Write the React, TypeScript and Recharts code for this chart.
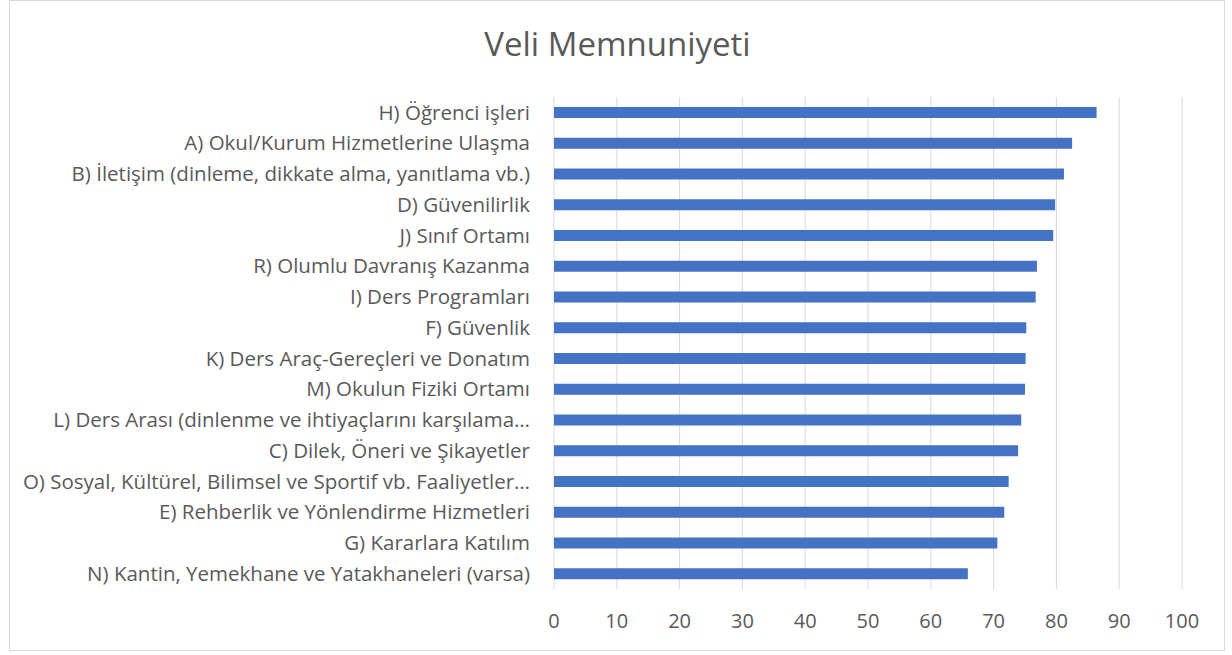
import { BarChart, Bar, XAxis, YAxis, CartesianGrid } from 'recharts'

const categories = [
  'H) Öğrenci işleri',
  'A) Okul/Kurum Hizmetlerine Ulaşma',
  'B) İletişim (dinleme, dikkate alma, yanıtlama vb.)',
  'D) Güvenilirlik',
  'J) Sınıf Ortamı',
  'R) Olumlu Davranış Kazanma',
  'I) Ders Programları',
  'F) Güvenlik',
  'K) Ders Araç-Gereçleri ve Donatım',
  'M) Okulun Fiziki Ortamı',
  'L) Ders Arası (dinlenme ve ihtiyaçlarını karşılama…',
  'C) Dilek, Öneri ve Şikayetler',
  'O) Sosyal, Kültürel, Bilimsel ve Sportif vb. Faaliyetler…',
  'E) Rehberlik ve Yönlendirme Hizmetleri',
  'G) Kararlara Katılım',
  'N) Kantin, Yemekhane ve Yatakhaneleri (varsa)',
]

const scores = [86.4, 82.5, 81.2, 79.8, 79.5, 76.9, 76.7, 75.2, 75.1, 75.0, 74.4, 73.9, 72.4, 71.7, 70.6, 65.9]

const xTicks = [0, 10, 20, 30, 40, 50, 60, 70, 80, 90, 100]

const font = '"Open Sans", sans-serif'

export default function App() {
  const chartData = categories.map((name, i) => ({ name, value: scores[i] }))

  return (
    <div style={{ position: 'absolute', left: 0, top: 0, width: 1232, height: 655, background: '#fff', fontFamily: font }}>
      <div
        style={{
          position: 'absolute',
          left: 9,
          top: 0,
          width: 1216,
          height: 651,
          border: '1px solid #d9d9d9',
          boxSizing: 'border-box',
        }}
      />
      <div
        style={{
          position: 'absolute',
          left: 0,
          top: 24,
          width: 1235,
          textAlign: 'center',
          fontSize: 33,
          color: '#595959',
          lineHeight: '40px',
        }}
      >
        Veli Memnuniyeti
      </div>
      <div style={{ position: 'absolute', left: 0, top: 0 }}>
        <BarChart
          width={1232}
          height={655}
          data={chartData}
          layout="vertical"
          margin={{ top: 97, right: 50, bottom: 16, left: 0 }}
        >
          <CartesianGrid horizontal={false} stroke="#d9d9d9" strokeWidth={1} />
          <XAxis
            type="number"
            domain={[0, 100]}
            ticks={xTicks}
            axisLine={false}
            tickLine={false}
            tickSize={0}
            tickMargin={25}
            height={50}
            interval={0}
            tick={{ fontSize: 20, fill: '#595959', fontFamily: font }}
          />
          <YAxis
            type="category"
            dataKey="name"
            width={554}
            axisLine={false}
            tickLine={false}
            tickSize={0}
            tickMargin={24}
            interval={0}
            tick={{ fontSize: 20.5, fill: '#595959', fontFamily: font }}
          />
          <Bar dataKey="value" fill="#4472C4" barSize={11} isAnimationActive={false} />
        </BarChart>
      </div>
    </div>
  )
}
